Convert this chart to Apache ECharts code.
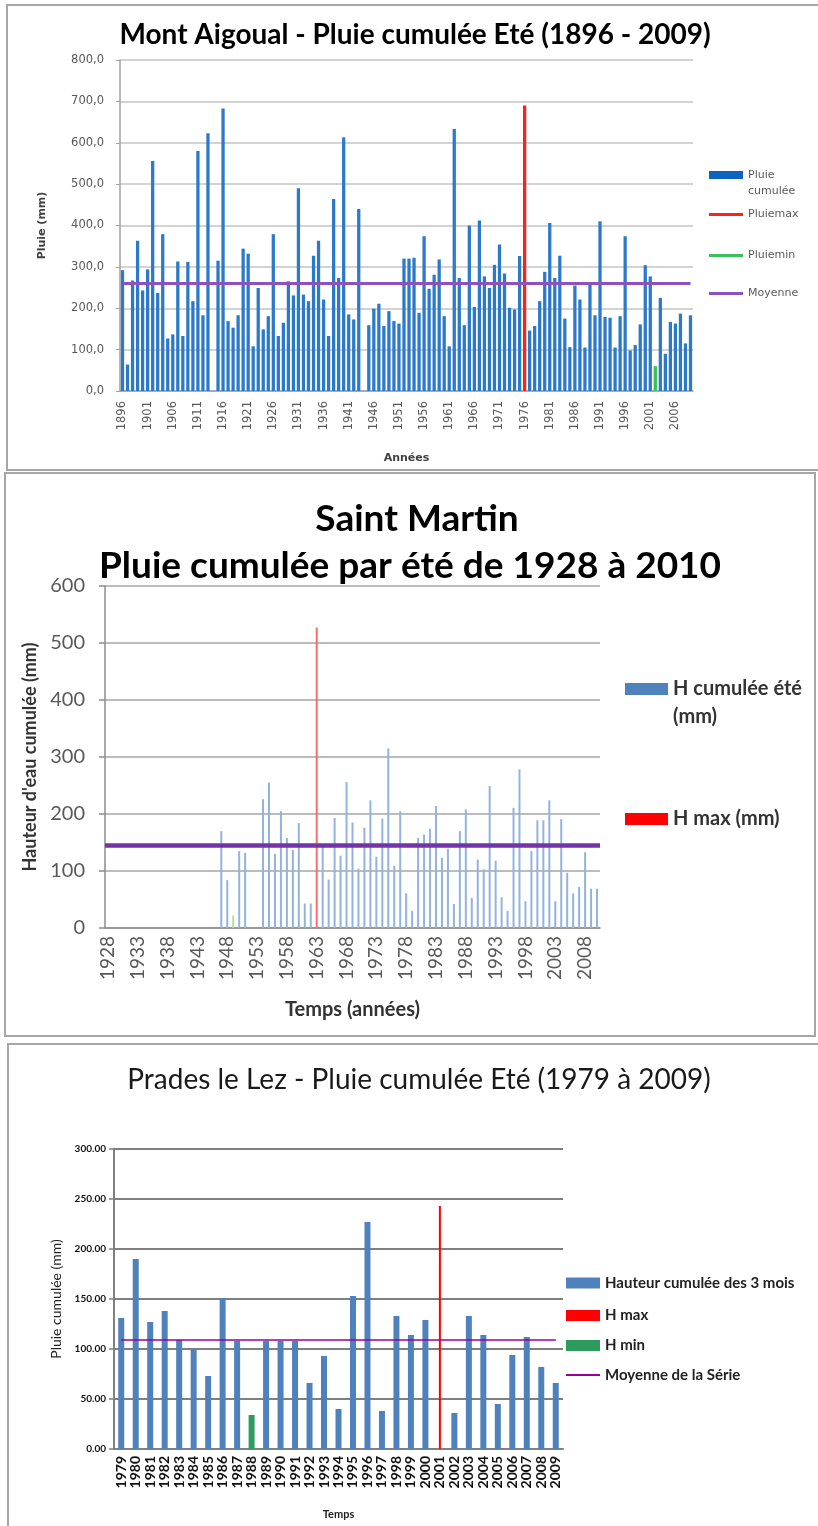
<!DOCTYPE html>
<html>
<head>
<meta charset="utf-8">
<script src="https://cdn.jsdelivr.net/npm/echarts@6/dist/echarts.min.js"></script>
<style>
  html, body { margin: 0; padding: 0; background: #fff; }
  #chart { width: 818px; height: 1526px; }
</style>
</head>
<body>
<div id="chart"></div>
<script>
// ---- Mont Aigoual (1896 - 2009) ----
const anneesAigoual = [];
for (let a = 1896; a <= 2009; a++) anneesAigoual.push(String(a));
const pluieAigoual = [
  292, 64, 267, 363, 243, 294, 556, 237, 379, 127,   // 1896-1905
  137, 313, 133, 312, 217, 580, 183, 623, null, 315, // 1906-1915
  683, 169, 153, 183, 344, 332, 108, 249, 149, 181,  // 1916-1925
  379, 133, 165, 265, 231, 490, 233, 217, 327, 363,  // 1926-1935
  221, 133, 464, 273, 613, 185, 173, 440, null, 159, // 1936-1945
  199, 211, 157, 193, 169, 163, 320, 320, 322, 189,  // 1946-1955
  374, 247, 281, 318, 181, 108, 633, 273, 159, 400,  // 1956-1965
  203, 412, 277, 249, 305, 354, 284, 201, 197, 326,  // 1966-1975
  690, 146, 157, 217, 288, 406, 273, 327, 175, 106,  // 1976-1985
  255, 221, 105, 257, 183, 410, 179, 177, 105, 181,  // 1986-1995
  374, 98, 111, 161, 304, 277, 60, 225, 90, 167,     // 1996-2005
  163, 187, 115, 183                                 // 2006-2009
];
const maxAigoual = '1976';
const minAigoual = '2002';
const moyenneAigoual = 260;

// ---- Saint Martin (1928 - 2010) ----
const anneesStMartin = [];
for (let a = 1928; a <= 2010; a++) anneesStMartin.push(String(a));
const pluieStMartin = [
  null, null, null, null, null, null, null, null, null, null, // 1928-1937
  null, null, null, null, null, null, null, null, null,       // 1938-1946
  170, 84, 22, 135, 132, null, null, 226, 255, 130,           // 1947-1956
  205, 158, 137, 184, 43, 43, 527, 142, 85, 193,              // 1957-1966
  127, 256, 185, 104, 176, 224, 125, 192, 315, 109,           // 1967-1976
  205, 61, 30, 158, 164, 174, 214, 123, 139, 42,              // 1977-1986
  170, 208, 53, 120, 103, 249, 118, 54, 30, 211,              // 1987-1996
  278, 47, 135, 189, 189, 224, 47, 191, 97, 61,               // 1997-2006
  72, 133, 69, 69                                             // 2007-2010
];
const maxStMartin = '1963';
const minStMartin = '1949';
const moyenneStMartin = 145;

// ---- Prades le Lez (1979 - 2009) ----
const anneesPrades = [];
for (let a = 1979; a <= 2009; a++) anneesPrades.push(String(a));
const pluiePrades = [
  131, 190, 127, 138, 109, 99, 73, 151, 108, 34,   // 1979-1988
  108, 108, 108, 66, 93, 40, 153, 227, 38, 133,    // 1989-1998
  114, 129, 243, 36, 133, 114, 45, 94, 112, 82,    // 1999-2008
  66                                               // 2009
];
const maxPrades = '2001';
const minPrades = '1988';
const moyennePrades = 109;

function sauf(valeurs, annees, exclues) {
  return valeurs.map((v, i) => (v == null || exclues.includes(annees[i])) ? '-' : v);
}
function seulement(valeurs, annees, annee) {
  return valeurs.map((v, i) => annees[i] === annee ? v : '-');
}

const police = 'Lato';
const petite = 'DejaVu Sans';
const legendeBase = { orient: 'vertical', padding: 0, itemGap: 0, selectedMode: false };

const chart = echarts.init(document.getElementById('chart'));
chart.setOption({
  animation: false,
  textStyle: { fontFamily: police },
  graphic: [
    { type: 'rect', silent: true, shape: { x: 7, y: 5, width: 830, height: 465 }, style: { fill: 'none', stroke: '#a6a6a6', lineWidth: 2 } },
    { type: 'rect', silent: true, shape: { x: 5, y: 473, width: 810, height: 563 }, style: { fill: 'none', stroke: '#a6a6a6', lineWidth: 2 } },
    { type: 'rect', silent: true, shape: { x: 8, y: 1044, width: 830, height: 500 }, style: { fill: 'none', stroke: '#a6a6a6', lineWidth: 2 } },
    { type: 'text', x: 415, y: 35, style: { text: 'Mont Aigoual - Pluie cumulée Eté (1896 - 2009)', fontFamily: police, fontSize: 28, fontWeight: 'bold', fill: '#000', align: 'center', verticalAlign: 'middle' } },
    { type: 'text', x: 417, y: 519, style: { text: 'Saint Martin', fontFamily: police, fontSize: 37, fontWeight: 'bold', fill: '#000', align: 'center', verticalAlign: 'middle' } },
    { type: 'text', x: 410, y: 566, style: { text: 'Pluie cumulée par été de 1928 à 2010', fontFamily: police, fontSize: 37, fontWeight: 'bold', fill: '#000', align: 'center', verticalAlign: 'middle' } },
    { type: 'text', x: 419, y: 1080, style: { text: 'Prades le Lez - Pluie cumulée Eté (1979 à 2009)', fontFamily: police, fontSize: 28, fontWeight: 'normal', fill: '#1a1a1a', align: 'center', verticalAlign: 'middle' } }
  ],
  legend: [
    // Mont Aigoual (ligne vide en tête pour aligner le texte sur l'icône)
    Object.assign({}, legendeBase, { left: 709, top: 151, itemWidth: 34, itemHeight: 8,
      data: [{ name: 'Pluie cumulée', icon: 'rect', itemStyle: { color: '#0d63c0' } }],
      formatter: () => '\nPluie\ncumulée',
      textStyle: { fontFamily: petite, fontSize: 11, color: '#595959', lineHeight: 16 } }),
    Object.assign({}, legendeBase, { left: 709, top: 208, itemWidth: 34, itemHeight: 3,
      data: [{ name: 'Pluiemax', icon: 'rect' }], textStyle: { fontFamily: petite, fontSize: 11, color: '#595959', lineHeight: 13 } }),
    Object.assign({}, legendeBase, { left: 709, top: 249, itemWidth: 34, itemHeight: 3,
      data: [{ name: 'Pluiemin', icon: 'rect' }], textStyle: { fontFamily: petite, fontSize: 11, color: '#595959', lineHeight: 13 } }),
    Object.assign({}, legendeBase, { left: 709, top: 287, itemWidth: 34, itemHeight: 3,
      data: [{ name: 'Moyenne', icon: 'rect' }], textStyle: { fontFamily: petite, fontSize: 11, color: '#595959', lineHeight: 13 } }),
    // Saint Martin
    Object.assign({}, legendeBase, { left: 625, top: 647, itemWidth: 43, itemHeight: 12,
      data: [{ name: 'H cumulée été (mm)', icon: 'rect', itemStyle: { color: '#4f81bd' } }],
      formatter: () => '\nH cumulée été\n(mm)',
      textStyle: { fontSize: 20, fontWeight: 'bold', color: '#333', lineHeight: 28 } }),
    Object.assign({}, legendeBase, { left: 625, top: 805, itemWidth: 43, itemHeight: 12,
      data: [{ name: 'H max (mm)', icon: 'rect', itemStyle: { color: '#ff0000' } }],
      textStyle: { fontSize: 20, fontWeight: 'bold', color: '#333', lineHeight: 28 } }),
    // Prades le Lez
    Object.assign({}, legendeBase, { left: 566, top: 1275.5, itemWidth: 34, itemHeight: 11,
      data: [{ name: 'Hauteur cumulée des 3 mois', icon: 'rect' }], textStyle: { fontSize: 15, fontWeight: 'bold', color: '#222', lineHeight: 15 } }),
    Object.assign({}, legendeBase, { left: 566, top: 1308, itemWidth: 34, itemHeight: 11,
      data: [{ name: 'H max', icon: 'rect' }], textStyle: { fontSize: 15, fontWeight: 'bold', color: '#222', lineHeight: 15 } }),
    Object.assign({}, legendeBase, { left: 566, top: 1338, itemWidth: 34, itemHeight: 11,
      data: [{ name: 'H min', icon: 'rect' }], textStyle: { fontSize: 15, fontWeight: 'bold', color: '#222', lineHeight: 15 } }),
    Object.assign({}, legendeBase, { left: 566, top: 1367.5, itemWidth: 34, itemHeight: 2,
      data: [{ name: 'Moyenne de la Série', icon: 'rect' }], textStyle: { fontSize: 15, fontWeight: 'bold', color: '#222', lineHeight: 15 } })
  ],
  grid: [
    { left: 120, top: 60, width: 573, height: 331 },
    { left: 105, top: 586, width: 495, height: 342 },
    { left: 114, top: 1149, width: 449, height: 300 }
  ],
  xAxis: [
    {
      gridIndex: 0, type: 'category', data: anneesAigoual, boundaryGap: true,
      name: 'Années', nameLocation: 'middle', nameGap: 62,
      nameTextStyle: { fontFamily: petite, fontSize: 11, fontWeight: 'bold', color: '#404040' },
      axisLine: { lineStyle: { color: '#a0a0a0', width: 1.5 } },
      axisTick: { interval: 0, length: 3, lineStyle: { color: '#a0a0a0' } },
      axisLabel: { interval: 4, rotate: 90, fontFamily: petite, fontSize: 11.5, color: '#595959', margin: 10 }
    },
    {
      gridIndex: 1, type: 'category', data: anneesStMartin, boundaryGap: true,
      name: 'Temps (années)', nameLocation: 'middle', nameGap: 72,
      nameTextStyle: { fontSize: 20, fontWeight: 'bold', color: '#333' },
      axisLine: { lineStyle: { color: '#8c8c8c', width: 1.5 } },
      axisTick: { interval: 4, length: 8, lineStyle: { color: '#8c8c8c', width: 1.5 } },
      axisLabel: { interval: 4, rotate: 90, fontSize: 19, color: '#595959', margin: 8 }
    },
    {
      gridIndex: 2, type: 'category', data: anneesPrades, boundaryGap: true,
      name: 'Temps', nameLocation: 'middle', nameGap: 60,
      nameTextStyle: { fontSize: 11, fontWeight: 'bold', color: '#222' },
      axisLine: { lineStyle: { color: '#808080', width: 2 } },
      axisTick: { interval: 0, length: 6, lineStyle: { color: '#808080', width: 1.5 } },
      axisLabel: { interval: 0, rotate: 90, fontSize: 14, fontWeight: 'bold', color: '#111', margin: 7 }
    },
    // axe masqué pour centrer la barre fine "H max"
    { gridIndex: 2, type: 'category', data: anneesPrades, boundaryGap: true, show: false }
  ],
  yAxis: [
    {
      gridIndex: 0, type: 'value', min: 0, max: 800, interval: 100,
      name: 'Pluie (mm)', nameLocation: 'middle', nameGap: 72,
      nameTextStyle: { fontFamily: petite, fontSize: 11, fontWeight: 'bold', color: '#404040' },
      axisLine: { show: true, lineStyle: { color: '#a0a0a0', width: 1.5 } },
      axisTick: { show: true, length: 4, lineStyle: { color: '#a0a0a0' } },
      axisLabel: { fontFamily: petite, fontSize: 11.5, color: '#595959', margin: 16, formatter: v => v.toFixed(1).replace('.', ',') },
      splitLine: { lineStyle: { color: '#c4c4c4', width: 1.5 } }
    },
    {
      gridIndex: 1, type: 'value', min: 0, max: 600, interval: 100,
      name: "Hauteur d'eau cumulée (mm)", nameLocation: 'middle', nameGap: 64,
      nameTextStyle: { fontSize: 18, fontWeight: 'bold', color: '#333' },
      axisLine: { show: true, lineStyle: { color: '#8c8c8c', width: 1.5 } },
      axisTick: { show: true, length: 6, lineStyle: { color: '#8c8c8c', width: 1.5 } },
      axisLabel: { fontSize: 20, color: '#595959', margin: 20 },
      splitLine: { lineStyle: { color: '#a6a6a6', width: 1.5 } }
    },
    {
      gridIndex: 2, type: 'value', min: 0, max: 300, interval: 50,
      name: 'Pluie cumulée (mm)', nameLocation: 'middle', nameGap: 38,
      nameTextStyle: { fontSize: 14, color: '#222' },
      axisLine: { show: true, lineStyle: { color: '#808080', width: 2 } },
      axisTick: { show: true, length: 5, lineStyle: { color: '#808080', width: 1.5 } },
      axisLabel: { fontSize: 10, fontWeight: 'bold', color: '#111', margin: 8, formatter: v => v.toFixed(2) },
      splitLine: { lineStyle: { color: '#7f7f7f', width: 2 } }
    }
  ],
  series: [
    // Mont Aigoual
    { name: 'Pluie cumulée', type: 'bar', xAxisIndex: 0, yAxisIndex: 0, barGap: '-100%', barCategoryGap: '35%',
      color: '#2b79c8', data: sauf(pluieAigoual, anneesAigoual, [maxAigoual, minAigoual]) },
    { name: 'Pluiemax', type: 'bar', xAxisIndex: 0, yAxisIndex: 0, barGap: '-100%', barCategoryGap: '35%',
      color: '#ff1f1f', data: seulement(pluieAigoual, anneesAigoual, maxAigoual) },
    { name: 'Pluiemin', type: 'bar', xAxisIndex: 0, yAxisIndex: 0, barGap: '-100%', barCategoryGap: '35%',
      color: '#3cbf5e', data: seulement(pluieAigoual, anneesAigoual, minAigoual) },
    { name: 'Moyenne', type: 'line', xAxisIndex: 0, yAxisIndex: 0, color: '#8e52c0', data: [],
      markLine: { silent: true, symbol: 'none', label: { show: false }, lineStyle: { color: '#8e52c0', width: 3, type: 'solid' },
        data: [[{ coord: [anneesAigoual[0], moyenneAigoual] }, { coord: [anneesAigoual[anneesAigoual.length - 1], moyenneAigoual] }]] } },

    // Saint Martin
    { name: 'H cumulée été (mm)', type: 'bar', xAxisIndex: 1, yAxisIndex: 1, barGap: '-100%', barWidth: 2,
      color: '#93b3de', data: sauf(pluieStMartin, anneesStMartin, [maxStMartin, minStMartin]) },
    { name: 'H max (mm)', type: 'bar', xAxisIndex: 1, yAxisIndex: 1, barGap: '-100%', barWidth: 2,
      color: '#ff6a6a', data: seulement(pluieStMartin, anneesStMartin, maxStMartin) },
    { name: 'H min (mm)', type: 'bar', xAxisIndex: 1, yAxisIndex: 1, barGap: '-100%', barWidth: 2,
      color: '#b9dc8e', data: seulement(pluieStMartin, anneesStMartin, minStMartin) },
    { name: 'Moyenne Saint Martin', type: 'line', xAxisIndex: 1, yAxisIndex: 1, color: '#7030a0', data: [],
      markLine: { silent: true, symbol: 'none', label: { show: false }, lineStyle: { color: '#7434a8', width: 4.5, type: 'solid' },
        data: [{ yAxis: moyenneStMartin }] } },

    // Prades le Lez
    { name: 'Hauteur cumulée des 3 mois', type: 'bar', xAxisIndex: 2, yAxisIndex: 2, barGap: '-100%', barWidth: 6,
      color: '#4f81bd', data: sauf(pluiePrades, anneesPrades, [maxPrades, minPrades]) },
    { name: 'H min', type: 'bar', xAxisIndex: 2, yAxisIndex: 2, barGap: '-100%', barWidth: 6,
      color: '#2e9a5e', data: seulement(pluiePrades, anneesPrades, minPrades) },
    { name: 'H max', type: 'bar', xAxisIndex: 3, yAxisIndex: 2, barWidth: 2,
      color: '#ff0000', data: seulement(pluiePrades, anneesPrades, maxPrades) },
    { name: 'Moyenne de la Série', type: 'line', xAxisIndex: 2, yAxisIndex: 2, color: '#990099', data: [],
      markLine: { silent: true, symbol: 'none', label: { show: false }, lineStyle: { color: '#990099', width: 1.5, type: 'solid' },
        data: [[{ coord: [anneesPrades[0], moyennePrades] }, { coord: [anneesPrades[anneesPrades.length - 1], moyennePrades] }]] } }
  ]
});
</script>
</body>
</html>
